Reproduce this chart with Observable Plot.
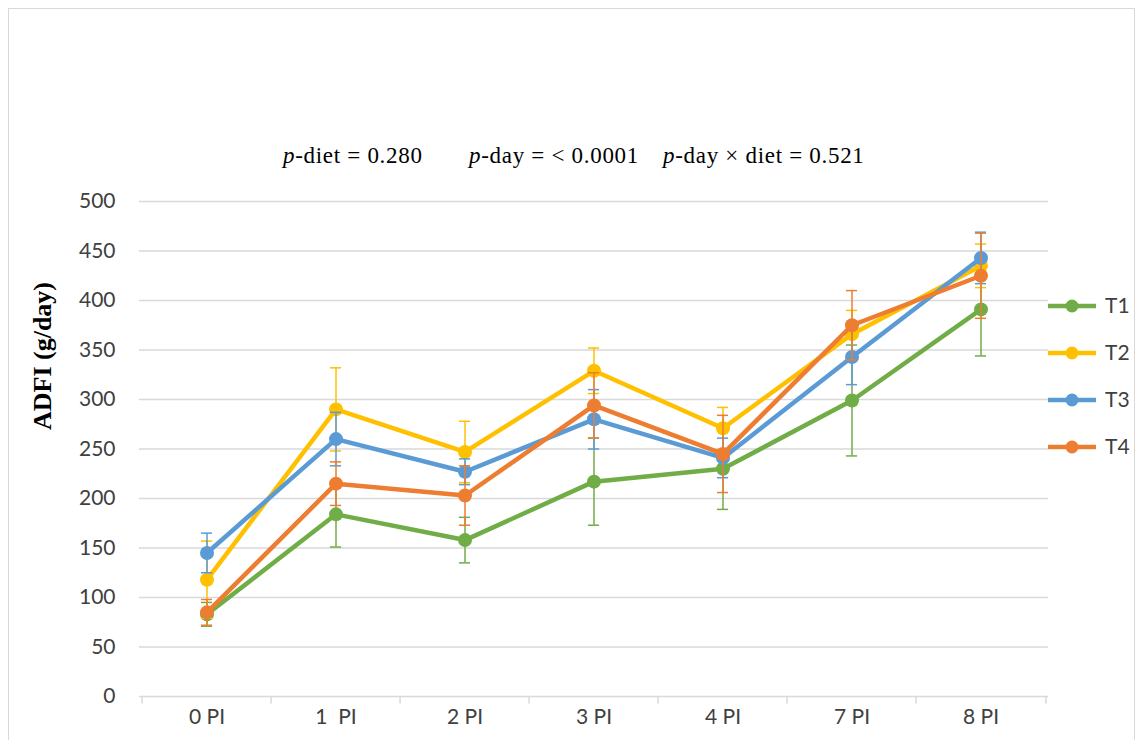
<!DOCTYPE html>
<html>
<head>
<meta charset="utf-8">
<script src="https://cdn.jsdelivr.net/npm/d3@7"></script>
<script src="https://cdn.jsdelivr.net/npm/@observablehq/plot@0.6"></script>
<style>
  body { margin: 0; background: #fff; }
  #wrap { position: relative; width: 1143px; height: 740px; overflow: hidden; }
  #frame { position: absolute; left: 8px; top: 8px; width: 1127px; height: 760px; border: 1px solid #d9d9d9; box-sizing: border-box; }
  .pt { position: absolute; top: 143px; font-family: "Liberation Serif", serif; font-size: 23px; letter-spacing: 0.7px; color: #000; white-space: pre; }
  #ylab { position: absolute; left: 43px; top: 356px; transform: translate(-50%, -50%) rotate(-90deg); font-family: "Liberation Serif", serif; font-weight: bold; font-size: 26px; white-space: nowrap; }
  #chart { position: absolute; left: 0; top: 0; }
  #legend { position: absolute; left: 1046px; top: 0; }
  svg text { font-family: Lato, sans-serif; }
</style>
</head>
<body>
<div id="wrap">
  <div id="frame"></div>
  <div id="chart"></div>
  <div class="pt" style="left:283px"><i>p</i>-diet = 0.280</div>
  <div class="pt" style="left:469px"><i>p</i>-day = &lt; 0.0001</div>
  <div class="pt" style="left:663px"><i>p</i>-day × diet = 0.521</div>
  <div id="ylab">ADFI (g/day)</div>
  <div id="legend"></div>
</div>
<script>
const categories = ["0 PI", "1  PI", "2 PI", "3 PI", "4 PI", "7 PI", "8 PI"];
const seriesNames = ["T1", "T2", "T3", "T4"];
const seriesColors = ["#70AD47", "#FFC000", "#5B9BD5", "#ED7D31"];
const t1 = [83, 184, 158, 217, 230, 299, 391];
const t2 = [118, 290, 247, 329, 271, 366, 435];
const t3 = [145, 260, 227, 280, 241, 343, 443];
const t4 = [85, 215, 203, 294, 245, 375, 425];
const e1 = [12, 33, 23, 44, 41, 56, 47];
const e2 = [39, 42, 31, 23, 21, 24, 22];
const e3 = [20, 27, 13, 30, 20, 28, 26];
const e4 = [13, 22, 30, 33, 39, 35, 43];
const yTicks = [0, 50, 100, 150, 200, 250, 300, 350, 400, 450, 500];

const values = [t1, t2, t3, t4];
const errors = [e1, e2, e3, e4];
const data = [];
seriesNames.forEach((s, i) => {
  categories.forEach((c, j) => {
    data.push({series: s, cat: c, v: values[i][j], e: errors[i][j]});
  });
});

const W = 1143, H = 740;
const mL = 139, mR = 95, mT = 201, mB = 44;
const bw = (W - mL - mR) / categories.length;

const marks = [
  Plot.gridY(yTicks.filter(d => d > 0), {stroke: "#d9d9d9", strokeOpacity: 1, strokeWidth: 1.5}),
  Plot.ruleY([0], {stroke: "#d9d9d9", strokeWidth: 1.5}),
  Plot.ruleX(categories, {x: d => d, dx: -bw / 2, y1: 0, y2: -7.5, stroke: "#d9d9d9", strokeWidth: 1.5}),
  Plot.ruleX([categories[categories.length - 1]], {x: d => d, dx: bw / 2, y1: 0, y2: -7.5, stroke: "#d9d9d9", strokeWidth: 1.5})
];
seriesNames.forEach((s, i) => {
  const d = data.filter(r => r.series === s);
  const col = seriesColors[i];
  marks.push(
    Plot.ruleX(d, {x: "cat", y1: r => r.v - r.e, y2: r => r.v + r.e, stroke: col, strokeWidth: 1.5}),
    Plot.tickY(d, {x: "cat", y: r => r.v - r.e, stroke: col, strokeWidth: 1.5, insetLeft: bw / 2 - 6, insetRight: bw / 2 - 6}),
    Plot.tickY(d, {x: "cat", y: r => r.v + r.e, stroke: col, strokeWidth: 1.5, insetLeft: bw / 2 - 6, insetRight: bw / 2 - 6}),
    Plot.line(d, {x: "cat", y: "v", stroke: col, strokeWidth: 4.5, strokeLinejoin: "round"}),
    Plot.dot(d, {x: "cat", y: "v", fill: col, r: 7, stroke: "none"})
  );
});

const chart = Plot.plot({
  width: W,
  height: H,
  marginLeft: mL,
  marginRight: mR,
  marginTop: mT,
  marginBottom: mB,
  style: {fontSize: "21px", fontFamily: "Lato, sans-serif", color: "#404040", background: "transparent"},
  x: {type: "band", domain: categories, padding: 0, label: null, tickSize: 0, tickPadding: 13},
  y: {domain: [0, 500], ticks: yTicks, label: null, tickSize: 0, tickPadding: 24},
  marks
});
document.getElementById("chart").appendChild(chart);

// legend
const lg = d3.select("#legend").append("svg").attr("width", 97).attr("height", 740);
const legendY = [306, 353, 400, 447];
seriesNames.forEach((s, i) => {
  const g = lg.append("g").attr("transform", `translate(0,${legendY[i]})`);
  g.append("line").attr("x1", 2).attr("x2", 50).attr("y1", 0).attr("y2", 0)
    .attr("stroke", seriesColors[i]).attr("stroke-width", 4.5);
  g.append("circle").attr("cx", 26).attr("cy", 0).attr("r", 6.5).attr("fill", seriesColors[i]);
  g.append("text").attr("x", 59).attr("y", 0).attr("dy", "0.35em")
    .attr("font-size", 21).attr("fill", "#404040").attr("font-family", "Lato, sans-serif").text(s);
});
</script>
</body>
</html>
